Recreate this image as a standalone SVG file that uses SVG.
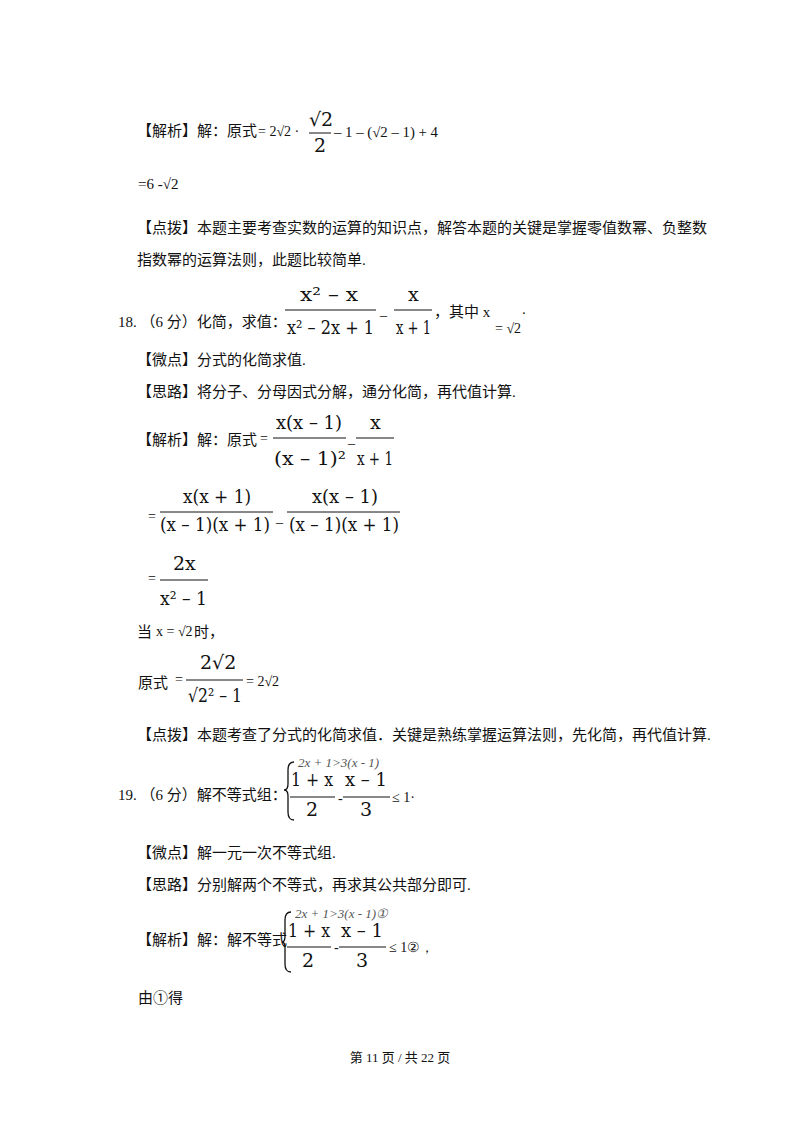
<svg xmlns="http://www.w3.org/2000/svg" width="800" height="1132" viewBox="0 0 800 1132">
<style>
text{font-family:"Liberation Serif","Noto Sans CJK SC",serif;fill:#111}
.t{font-size:15px}
.m{font-family:"DejaVu Serif","Liberation Serif",serif;font-size:19px}
.s{font-family:"Liberation Serif",serif;font-size:14px}
.i{font-family:"Liberation Serif",serif;font-size:13px;font-style:italic;fill:#555}
line{stroke:#111;stroke-width:1}
path{fill:none;stroke:#111;stroke-width:1.3}
</style>
<rect width="800" height="1132" fill="#fff"/>
<text class="t" x="137" y="136">【解析】解：原式</text>
<text class="s" x="258" y="136">= 2√2 ·</text>
<text class="m" x="309" y="126">√2</text><line x1="309" y1="133" x2="331" y2="133"/><text class="m" x="314" y="152">2</text>
<text class="s" x="334" y="137" textLength="104" lengthAdjust="spacingAndGlyphs">– 1 – (√2 – 1) + 4</text>
<text class="t" x="138" y="189">=6 -√2</text>
<text class="t" x="137" y="233">【点拨】本题主要考查实数的运算的知识点，解答本题的关键是掌握零值数幂、负整数</text>
<text class="t" x="137" y="265">指数幂的运算法则，此题比较简单.</text>
<text class="t" x="118" y="327">18. （6 分）化简，求值：</text>
<text class="m" x="300" y="301" textLength="58" lengthAdjust="spacingAndGlyphs">x² – x</text><line x1="285" y1="310" x2="376" y2="310"/><text class="m" x="287" y="334" textLength="87" lengthAdjust="spacingAndGlyphs">x² – 2x + 1</text>
<text class="s" x="380" y="320">–</text>
<text class="m" x="408" y="301">x</text><line x1="394" y1="310" x2="432" y2="310"/><text class="m" x="396" y="334" textLength="35" lengthAdjust="spacingAndGlyphs">x + 1</text>
<text class="t" x="434" y="317">，其中 x</text>
<text class="s" x="495" y="333">= √2</text><text class="t" x="522" y="314">.</text>
<text class="t" x="137" y="365">【微点】分式的化简求值.</text>
<text class="t" x="137" y="397">【思路】将分子、分母因式分解，通分化简，再代值计算.</text>
<text class="t" x="137" y="445">【解析】解：原式</text><text class="s" x="260" y="443">=</text>
<text class="m" x="276" y="429" textLength="66" lengthAdjust="spacingAndGlyphs">x(x – 1)</text><line x1="273" y1="438" x2="346" y2="438"/><text class="m" x="274" y="465" textLength="72" lengthAdjust="spacingAndGlyphs">(x – 1)²</text>
<text class="s" x="348" y="448">–</text>
<text class="m" x="370" y="429">x</text><line x1="356" y1="438" x2="394" y2="438"/><text class="m" x="357" y="465" textLength="36" lengthAdjust="spacingAndGlyphs">x + 1</text>
<text class="s" x="148" y="521">=</text>
<text class="m" x="183" y="503" textLength="68" lengthAdjust="spacingAndGlyphs">x(x + 1)</text><line x1="160" y1="512" x2="273" y2="512"/><text class="m" x="160" y="531" textLength="110" lengthAdjust="spacingAndGlyphs">(x – 1)(x + 1)</text>
<text class="s" x="276" y="527">–</text>
<text class="m" x="312" y="503" textLength="66" lengthAdjust="spacingAndGlyphs">x(x – 1)</text><line x1="287" y1="512" x2="400" y2="512"/><text class="m" x="289" y="531" textLength="110" lengthAdjust="spacingAndGlyphs">(x – 1)(x + 1)</text>
<text class="s" x="148" y="583">=</text>
<text class="m" x="173" y="570">2x</text><line x1="160" y1="580" x2="208" y2="580"/><text class="m" x="160" y="605" textLength="47" lengthAdjust="spacingAndGlyphs">x² – 1</text>
<text class="t" x="137" y="637">当</text><text class="s" x="156" y="636">x = √2</text><text class="t" x="194" y="637">时，</text>
<text class="t" x="138" y="688">原式</text><text class="s" x="175" y="684">=</text>
<text class="m" x="200" y="669">2√2</text><line x1="186" y1="680" x2="243" y2="680"/><text class="m" x="188" y="702" textLength="54" lengthAdjust="spacingAndGlyphs">√2² – 1</text>
<text class="s" x="246" y="686">= 2√2</text>
<text class="t" x="137" y="740">【点拨】本题考查了分式的化简求值．关键是熟练掌握运算法则，先化简，再代值计算.</text>
<text class="t" x="118" y="800">19. （6 分）解不等式组：</text>
<path d="M294,762 Q288,762 288,770 L288,784 Q288,790 284,790 Q288,790 288,796 L288,812 Q288,820 294,820"/>
<text class="i" x="298" y="767">2x + 1&gt;3(x - 1)</text>
<text class="m" x="291" y="786" textLength="42" lengthAdjust="spacingAndGlyphs">1 + x</text><line x1="290" y1="797" x2="335" y2="797"/><text class="m" x="306" y="816">2</text>
<text class="s" x="338" y="803">-</text>
<text class="m" x="345" y="786" textLength="42" lengthAdjust="spacingAndGlyphs">x – 1</text><line x1="343" y1="797" x2="390" y2="797"/><text class="m" x="360" y="816">3</text>
<text class="s" x="392" y="802">≤ 1·</text>
<text class="t" x="137" y="858">【微点】解一元一次不等式组.</text>
<text class="t" x="137" y="890">【思路】分别解两个不等式，再求其公共部分即可.</text>
<text class="t" x="137" y="945">【解析】解：解不等式</text>
<path d="M291,912 Q285,912 285,920 L285,936 Q285,942 282,942 Q285,942 285,948 L285,964 Q285,972 291,972"/>
<text class="i" x="295" y="918">2x + 1&gt;3(x - 1)①</text>
<text class="m" x="288" y="937" textLength="42" lengthAdjust="spacingAndGlyphs">1 + x</text><line x1="287" y1="947" x2="331" y2="947"/><text class="m" x="302" y="967">2</text>
<text class="s" x="334" y="952">-</text>
<text class="m" x="341" y="937" textLength="42" lengthAdjust="spacingAndGlyphs">x – 1</text><line x1="339" y1="947" x2="386" y2="947"/><text class="m" x="356" y="967">3</text>
<text class="s" x="389" y="952">≤ 1②，</text>
<text class="t" x="138" y="1003">由①得</text>
<text class="t" x="400" y="1062" text-anchor="middle" style="font-size:13px">第 11 页 / 共 22 页</text>
</svg>
